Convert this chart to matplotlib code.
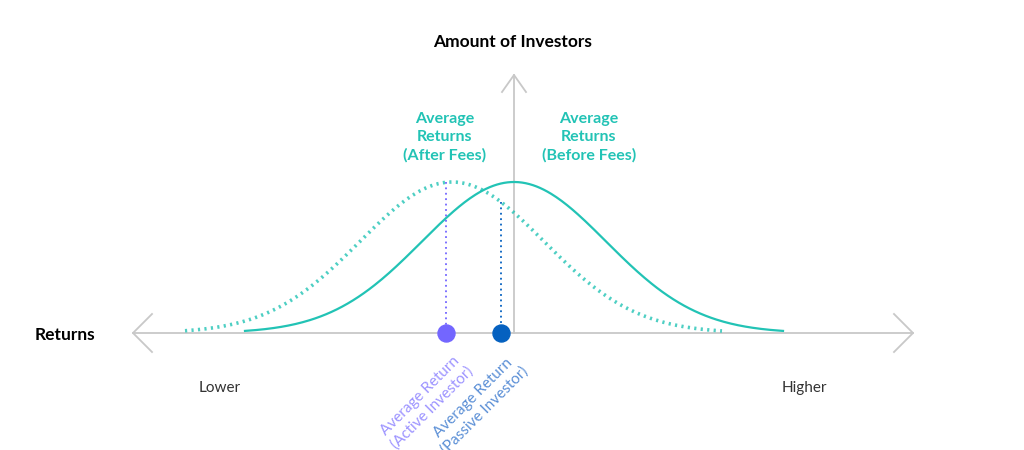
import numpy as np
import matplotlib.pyplot as plt

plt.rcParams["font.family"] = "Lato"

# curve parameters (pixel-like coordinates of the reference)
before_fees = {"mean": 514, "sd": 92, "start": 245, "end": 783}
after_fees = {"mean": 452, "sd": 92, "start": 185, "end": 722}
baseline_y = 333
peak_y = 182

marker_x = [446, 501]
marker_colors = ["#7366ff", "#0561c0"]
label_colors = ["#9d94ff", "#5b8fd6"]
marker_labels = ["Average Return\n(Active Investor)", "Average Return\n(Passive Investor)"]

TEAL = "#22c3b5"
GREY = "#c8c8c8"


def height(p, x):
    return baseline_y - (baseline_y - peak_y) * np.exp(-(x - p["mean"]) ** 2 / (2 * p["sd"] ** 2))


def curve(p):
    x = np.linspace(p["start"], p["end"], 300)
    return x, height(p, x)


fig = plt.figure(figsize=(10.24, 4.5), dpi=100)
ax = fig.add_axes([0, 0, 1, 1])
ax.set_xlim(0, 1024)
ax.set_ylim(450, 0)
ax.axis("off")

# axes arrows
ax.plot([133, 913], [333, 333], color=GREY, lw=1.3)
ax.plot([152, 133, 152], [314, 333, 352], color=GREY, lw=1.3)
ax.plot([894, 913, 894], [314, 333, 352], color=GREY, lw=1.3)
ax.plot([514, 514], [75, 333], color=GREY, lw=1.3)
ax.plot([502, 514, 526], [92, 75, 92], color=GREY, lw=1.3)

x, y = curve(before_fees)
ax.plot(x, y, color=TEAL, lw=1.6)
x, y = curve(after_fees)
ax.plot(x, y, color=TEAL, lw=2.6, ls=(0, (0.6, 1.2)), alpha=0.8)

for mx, c, lc, lab in zip(marker_x, marker_colors, label_colors, marker_labels):
    cy = height(after_fees, mx)
    ax.plot([mx, mx], [cy, baseline_y], color=c, lw=1.3, ls=(0, (1, 2)))
    ax.scatter([mx], [baseline_y], s=150, color=c, zorder=5)
    ax.text(mx + 8, 352, lab, rotation=45, color=lc, fontsize=11,
            ha="right", va="top", rotation_mode="anchor", multialignment="center")

ax.text(513, 42, "Amount of Investors", ha="center", va="center", fontsize=12.5, fontweight="bold")
ax.text(65, 335, "Returns", ha="center", va="center", fontsize=12.5, fontweight="bold")
ax.text(220, 388, "Lower", ha="center", va="center", fontsize=11, color="#333333")
ax.text(804, 388, "Higher", ha="center", va="center", fontsize=11, color="#333333")
ax.text(445, 137, "Average\nReturns\n(After Fees)", ha="center", va="center", fontsize=11.5,
        color=TEAL, fontweight="bold", linespacing=1.35)
ax.text(589, 137, "Average\nReturns\n(Before Fees)", ha="center", va="center", fontsize=11.5,
        color=TEAL, fontweight="bold", linespacing=1.35)

fig.savefig("out.png", dpi=100)
